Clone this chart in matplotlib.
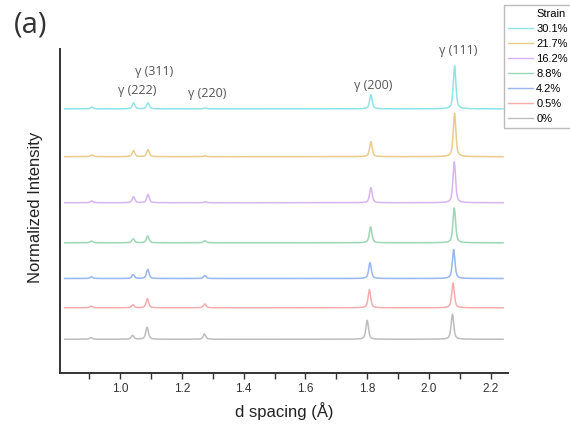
import numpy as np
import matplotlib
matplotlib.use("Agg")
import matplotlib.pyplot as plt
from matplotlib.lines import Line2D

# ---------------- data ----------------
strains = ["30.1%", "21.7%", "16.2%", "8.8%", "4.2%", "0.5%", "0%"]
colors = ["#8fe4e8", "#ebcb8a", "#d8b4f2", "#9dd6b4", "#98b6f0", "#f6adad", "#bdbdbd"]
offsets = [5.35, 4.24, 3.17, 2.24, 1.41, 0.73, 0.0]

# peak centres (d spacing, Å) per strain: [0.908, (222), (311), (220), (200), (111)]
peak_pos = [
    [0.908, 1.043, 1.090, 1.275, 1.812, 2.083],
    [0.908, 1.043, 1.090, 1.275, 1.812, 2.083],
    [0.908, 1.043, 1.090, 1.275, 1.812, 2.082],
    [0.907, 1.042, 1.089, 1.274, 1.811, 2.082],
    [0.907, 1.042, 1.089, 1.274, 1.809, 2.080],
    [0.906, 1.041, 1.088, 1.274, 1.807, 2.078],
    [0.905, 1.040, 1.087, 1.273, 1.800, 2.076],
]
peak_hgt = [
    [0.04, 0.14, 0.14, 0.02, 0.33, 1.00],
    [0.04, 0.14, 0.16, 0.02, 0.35, 1.00],
    [0.04, 0.14, 0.19, 0.02, 0.35, 0.95],
    [0.04, 0.09, 0.16, 0.05, 0.37, 0.81],
    [0.04, 0.09, 0.21, 0.07, 0.37, 0.67],
    [0.04, 0.07, 0.21, 0.09, 0.42, 0.58],
    [0.04, 0.09, 0.28, 0.12, 0.44, 0.58],
]
peak_labels = ["γ (111)", "γ (200)", "γ (311)", "γ (222)", "γ (220)"]
label_x = [2.095, 1.820, 1.111, 1.054, 1.283]
label_y = [6.70, 5.90, 6.22, 5.77, 5.70]

d_min, d_max = 0.82, 2.24
xticks = [1.0, 1.2, 1.4, 1.6, 1.8, 2.0, 2.2]

# ---------------- figure ----------------
fig = plt.figure(figsize=(5.7, 4.28), dpi=100)
ax = fig.add_axes([60 / 570, 1 - 373 / 428, (508 - 60) / 570, (373 - 49) / 428])

d = np.linspace(d_min, d_max, 3000)
fwhm = 0.010


def profile(x, c, h):
    g = np.exp(-4 * np.log(2) * ((x - c) / fwhm) ** 2)
    l = 1.0 / (1 + 4 * ((x - c) / fwhm) ** 2)
    return h * (0.4 * g + 0.6 * l)


for lab, col, off, pos, hgt in zip(strains, colors, offsets, peak_pos, peak_hgt):
    y = np.full_like(d, off)
    for c, h in zip(pos, hgt):
        y = y + profile(d, c, h)
    ax.plot(d, y, color=col, lw=1.1)

ax.set_xlim(0.805, 2.256)
ax.set_ylim(-0.784, 6.74)
ax.set_yticks([])
ax.set_xticks(xticks)
ax.set_xticks([0.9, 1.1, 1.3, 1.5, 1.7, 1.9, 2.1], minor=True)
ax.set_xticklabels([f"{t:.1f}" for t in xticks])

for s in ["top", "right"]:
    ax.spines[s].set_visible(False)
for s in ["left", "bottom"]:
    ax.spines[s].set_linewidth(1.4)
    ax.spines[s].set_color("#333333")

ax.tick_params(axis="x", which="both", direction="out", length=4, width=1.0,
               color="#333333", labelsize=8.5, labelcolor="#333333", pad=3)
for t in ax.get_xticklabels():
    t.set_family("Liberation Sans")

ax.set_xlabel("d spacing (Å)", fontsize=12, family="Liberation Sans",
              color="#222222", labelpad=5)
ax.set_ylabel("Normalized Intensity", fontsize=12, family="Liberation Sans",
              color="#222222")
ax.yaxis.set_label_coords(-17 / 448, (373 - 207) / 324)

for txt, x, y in zip(peak_labels, label_x, label_y):
    ax.text(x, y, txt, ha="center", va="center", fontsize=9,
            family="Open Sans", color="#555555", clip_on=False)

fig.text(31 / 570, 1 - 25 / 428, "(a)", ha="center", va="center",
         fontsize=21, family="Open Sans", color="#333333")

handles = [Line2D([], [], color="none")] + \
    [Line2D([], [], color=c, lw=1.0) for c in colors]
labels = ["Strain"] + strains
leg = fig.legend(handles, labels, loc="upper left",
                 bbox_to_anchor=(504 / 570, 1 - 5 / 428),
                 prop={"family": "Liberation Sans", "size": 8},
                 frameon=True, fancybox=False, edgecolor="#aaaaaa",
                 handlelength=2.3, handletextpad=0.25, labelspacing=0.45,
                 borderpad=0.35, borderaxespad=0)
leg.get_frame().set_linewidth(1.0)

fig.savefig("out.png", dpi=100)
